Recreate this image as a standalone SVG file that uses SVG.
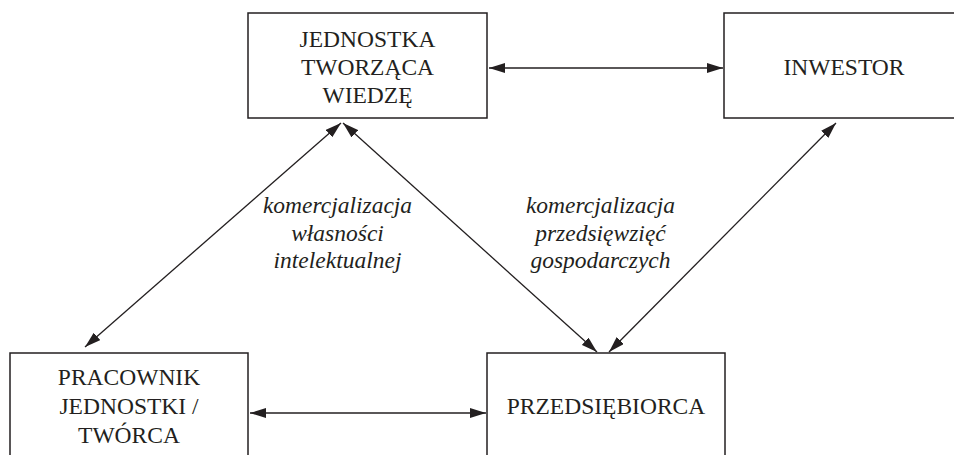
<svg xmlns="http://www.w3.org/2000/svg" width="954" height="455" viewBox="0 0 954 455">
<style>
.box{fill:#fff;stroke:#231f20;stroke-width:1.5}
.t{font-family:'Liberation Serif',serif;font-size:23.5px;fill:#231f20;text-anchor:middle}
.i{font-style:italic}
.c{stroke:#231f20;stroke-width:1.3;fill:none;marker-start:url(#ah);marker-end:url(#ah)}
</style>
<defs>
<marker id="ah" viewBox="0 0 16 10" refX="16" refY="5" markerWidth="16" markerHeight="10" markerUnits="userSpaceOnUse" orient="auto-start-reverse">
<path d="M0,0 L16,5 L0,10 Z" fill="#231f20"/>
</marker>
</defs>
<rect width="954" height="455" fill="#fff"/>
<g id="connectors">
<line class="c" x1="489" y1="68" x2="723" y2="68"/>
<line class="c" x1="250" y1="413" x2="486" y2="413"/>
<line class="c" x1="85" y1="347" x2="341" y2="123"/>
<line class="c" x1="343" y1="123" x2="597" y2="352"/>
<line class="c" x1="836" y1="123" x2="609" y2="352"/>
</g>
<g id="jednostka">
<rect class="box" x="248" y="13" width="239" height="105"/>
<text class="t" x="367.5" y="47">JEDNOSTKA</text>
<text class="t" x="367.5" y="75">TWORZĄCA</text>
<text class="t" x="367.5" y="103">WIEDZĘ</text>
</g>
<g id="inwestor">
<rect class="box" x="724" y="13" width="240" height="105"/>
<text class="t" x="844" y="75">INWESTOR</text>
</g>
<g id="pracownik">
<rect class="box" x="10" y="353" width="238" height="110"/>
<text class="t" x="129" y="385">PRACOWNIK</text>
<text class="t" x="129" y="414">JEDNOSTKI /</text>
<text class="t" x="129" y="443">TWÓRCA</text>
</g>
<g id="przedsiebiorca">
<rect class="box" x="487" y="353" width="238" height="110"/>
<text class="t" x="606" y="414">PRZEDSIĘBIORCA</text>
</g>
<g id="label1">
<text class="t i" x="337.5" y="213">komercjalizacja</text>
<text class="t i" x="337.5" y="241">własności</text>
<text class="t i" x="337.5" y="268">intelektualnej</text>
</g>
<g id="label2">
<text class="t i" x="600.5" y="213">komercjalizacja</text>
<text class="t i" x="600.5" y="241">przedsięwzięć</text>
<text class="t i" x="600.5" y="268">gospodarczych</text>
</g>
</svg>
